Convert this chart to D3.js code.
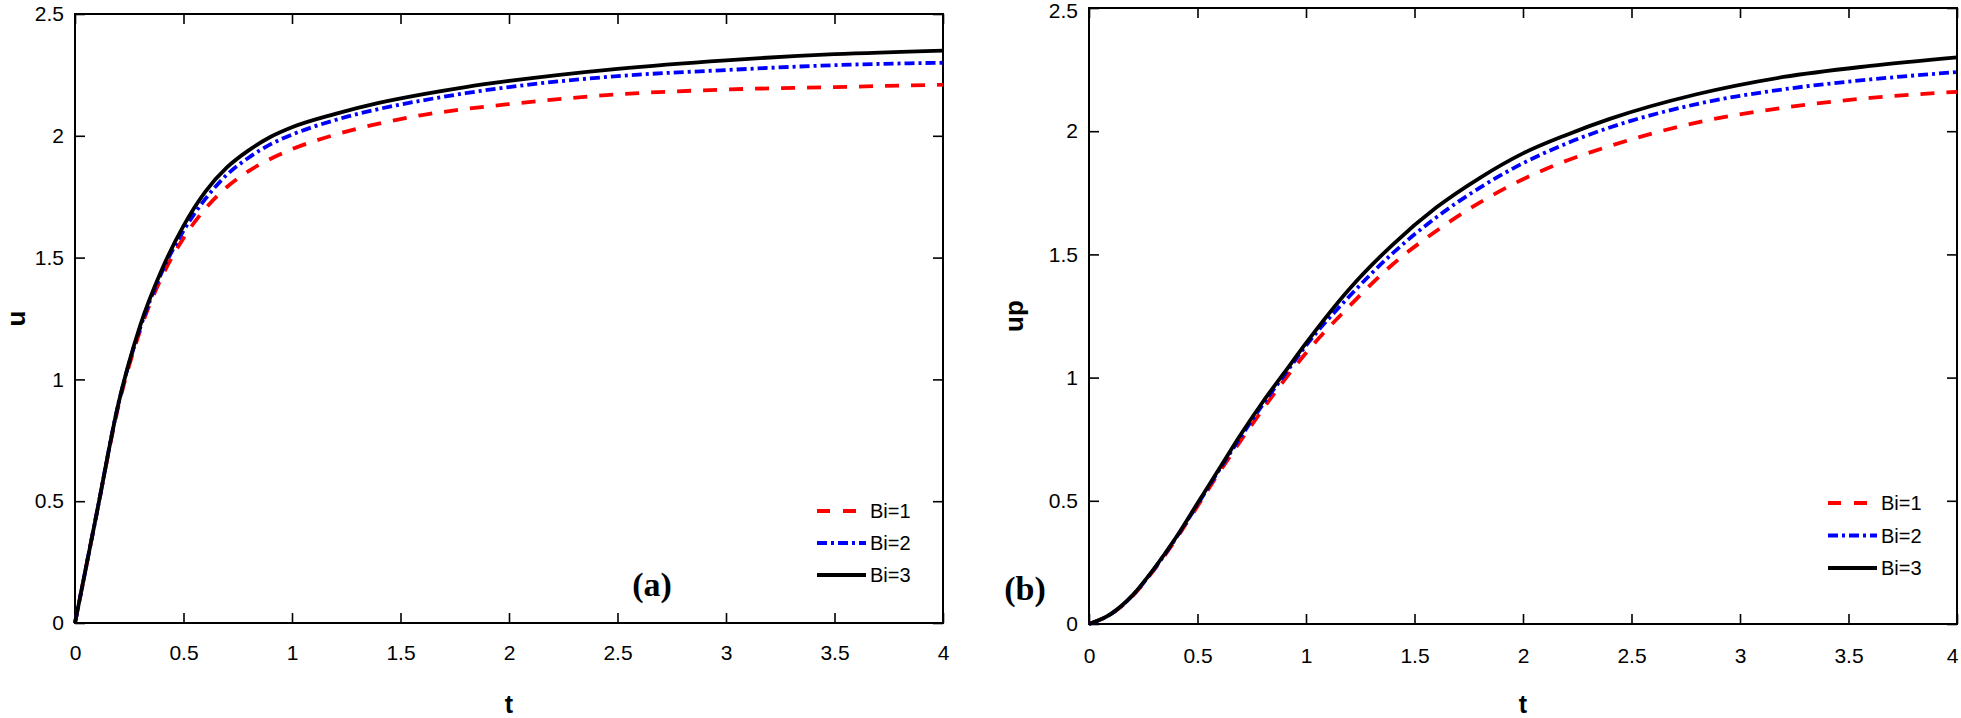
<!DOCTYPE html>
<meta charset="utf-8">
<style>
	body { margin: 0; background: #fff; }
	text { font-family: "Liberation Sans", Arial, sans-serif; fill: #000; }
</style>
<body></body>
<script src="https://cdn.jsdelivr.net/npm/d3@7/dist/d3.min.js"></script>
<script>

	// panel (a): u against t
	var tA    = [0, 0.1, 0.2, 0.3, 0.4, 0.5, 0.6, 0.7, 0.8, 0.9, 1.0, 1.2, 1.4, 1.6, 1.8, 2.0, 2.5, 3.0, 3.5, 4.0];
	var uBi1  = [0, 0.45, 0.89, 1.20, 1.42, 1.58, 1.70, 1.79, 1.855, 1.905, 1.945, 2.005, 2.05, 2.085, 2.11, 2.13, 2.17, 2.19, 2.20, 2.21];
	var uBi2  = [0, 0.45, 0.90, 1.21, 1.44, 1.61, 1.74, 1.84, 1.91, 1.965, 2.005, 2.065, 2.11, 2.145, 2.175, 2.20, 2.245, 2.27, 2.29, 2.30];
	var uBi3  = [0, 0.45, 0.90, 1.22, 1.45, 1.63, 1.77, 1.87, 1.94, 1.995, 2.035, 2.09, 2.135, 2.17, 2.20, 2.225, 2.275, 2.31, 2.335, 2.35];

	// panel (b): up against t
	var tB    = [0, 0.1, 0.2, 0.3, 0.4, 0.5, 0.6, 0.7, 0.8, 0.9, 1.0, 1.2, 1.4, 1.6, 1.8, 2.0, 2.2, 2.4, 2.8, 3.2, 3.6, 4.0];
	var upBi1 = [0, 0.04, 0.113, 0.22, 0.343, 0.478, 0.615, 0.745, 0.87, 0.99, 1.10, 1.29, 1.46, 1.595, 1.71, 1.805, 1.88, 1.94, 2.035, 2.095, 2.135, 2.16];
	var upBi2 = [0, 0.04, 0.115, 0.223, 0.348, 0.485, 0.625, 0.76, 0.89, 1.01, 1.13, 1.33, 1.505, 1.65, 1.77, 1.87, 1.95, 2.015, 2.11, 2.17, 2.21, 2.24];
	var upBi3 = [0, 0.04, 0.116, 0.225, 0.35, 0.49, 0.63, 0.77, 0.90, 1.02, 1.14, 1.36, 1.54, 1.69, 1.81, 1.91, 1.985, 2.05, 2.15, 2.22, 2.265, 2.30];

	var seriesNames = ["Bi=1", "Bi=2", "Bi=3"];
	var xTicks = [0, 0.5, 1, 1.5, 2, 2.5, 3, 3.5, 4];
	var yTicks = [0, 0.5, 1, 1.5, 2, 2.5];

	var styles = [
		{color: "#ff0000", dash: "14,12"},
		{color: "#0000ff", dash: "10,4,3,4"},
		{color: "#000000", dash: null}
	];

	var svg = d3.select("body").append("svg")
		.attr("width", 1961)
		.attr("height", 718);

	function drawPanel(p) {
		var width = p.right - p.left;
		var height = p.bottom - p.top;

		var g = svg.append("g")
			.attr("transform", "translate(" + p.left + "," + p.top + ")");

		var x = d3.scaleLinear().domain([0, 4]).range([0, width]);
		var y = d3.scaleLinear().domain([0, 2.5]).range([height, 0]);

		var fmt = function(d) { return String(d); };

		var xAxis = g.append("g")
			.attr("transform", "translate(0," + height + ")")
			.call(d3.axisBottom(x).tickValues(xTicks).tickFormat(fmt).tickSize(-10).tickPadding(p.xPad));
		var yAxis = g.append("g")
			.call(d3.axisLeft(y).tickValues(yTicks).tickFormat(fmt).tickSize(-10).tickPadding(11));
		g.append("g")
			.call(d3.axisTop(x).tickValues(xTicks).tickFormat("").tickSize(-10));
		g.append("g")
			.attr("transform", "translate(" + width + ",0)")
			.call(d3.axisRight(y).tickValues(yTicks).tickFormat("").tickSize(-10));

		g.selectAll(".domain").remove();
		g.selectAll(".tick line").attr("stroke", "#000").attr("stroke-width", 1.6);
		g.selectAll(".tick text")
			.attr("font-size", "21px")
			.attr("font-family", "Liberation Sans, Arial, sans-serif")
			.attr("fill", "#000");
		// keep edge labels inside the window
		xAxis.selectAll(".tick text").filter(function(d) { return d === 4; })
			.attr("dx", p.lastDx);
		yAxis.selectAll(".tick text").filter(function(d) { return d === 2.5; })
			.attr("y", p.topDy);

		g.append("rect")
			.attr("width", width)
			.attr("height", height)
			.attr("fill", "none")
			.attr("stroke", "#000")
			.attr("stroke-width", 2);

		var line = d3.line()
			.x(function(d) { return x(d[0]); })
			.y(function(d) { return y(d[1]); })
			.curve(d3.curveMonotoneX);

		p.series.forEach(function(vals, i) {
			var pts = p.t.map(function(t, j) { return [t, vals[j]]; });
			g.append("path")
				.datum(pts)
				.attr("d", line)
				.attr("fill", "none")
				.attr("stroke", styles[i].color)
				.attr("stroke-width", 3.8)
				.attr("stroke-dasharray", styles[i].dash);
		});

		// legend
		var lg = svg.append("g")
			.attr("transform", "translate(" + p.legX + "," + p.legY + ")");
		seriesNames.forEach(function(name, i) {
			var row = lg.append("g").attr("transform", "translate(0," + (i * p.legStep) + ")");
			row.append("line")
				.attr("x1", 0).attr("x2", 49)
				.attr("stroke", styles[i].color)
				.attr("stroke-width", 3.8)
				.attr("stroke-dasharray", i === 0 ? "13,13" : styles[i].dash);
			row.append("text")
				.attr("x", 53)
				.attr("dy", "0.36em")
				.attr("font-size", "20px")
				.text(name);
		});

		// panel letter
		svg.append("text")
			.attr("x", p.tagX)
			.attr("y", p.tagY)
			.attr("text-anchor", "middle")
			.attr("font-weight", "bold")
			.attr("font-size", "34px")
			.style("font-family", "Liberation Serif, Times New Roman, serif")
			.text(p.tag);

		// axis titles
		svg.append("text")
			.attr("x", p.left + width / 2)
			.attr("y", 713)
			.attr("text-anchor", "middle")
			.attr("font-weight", "bold")
			.attr("font-size", "25px")
			.text("t");

		svg.append("text")
			.attr("transform", "translate(" + p.yLabX + "," + (p.top + height / 2) + ") rotate(-90)")
			.attr("text-anchor", "middle")
			.attr("font-weight", "bold")
			.attr("font-size", "26px")
			.text(p.yLabel);
	}

	drawPanel({
		left: 75, top: 14, right: 943, bottom: 623,
		t: tA, series: [uBi1, uBi2, uBi3],
		xPad: 22, lastDx: 0, topDy: 0, yLabel: "u", yLabX: 25,
		legX: 817, legY: 511, legStep: 32,
		tag: "(a)", tagX: 652, tagY: 596
	});

	drawPanel({
		left: 1089, top: 8, right: 1957, bottom: 624,
		t: tB, series: [upBi1, upBi2, upBi3],
		xPad: 24, lastDx: -5, topDy: 3, yLabel: "up", yLabX: 1023,
		legX: 1828, legY: 503, legStep: 32.5,
		tag: "(b)", tagX: 1025, tagY: 600
	});

</script>
